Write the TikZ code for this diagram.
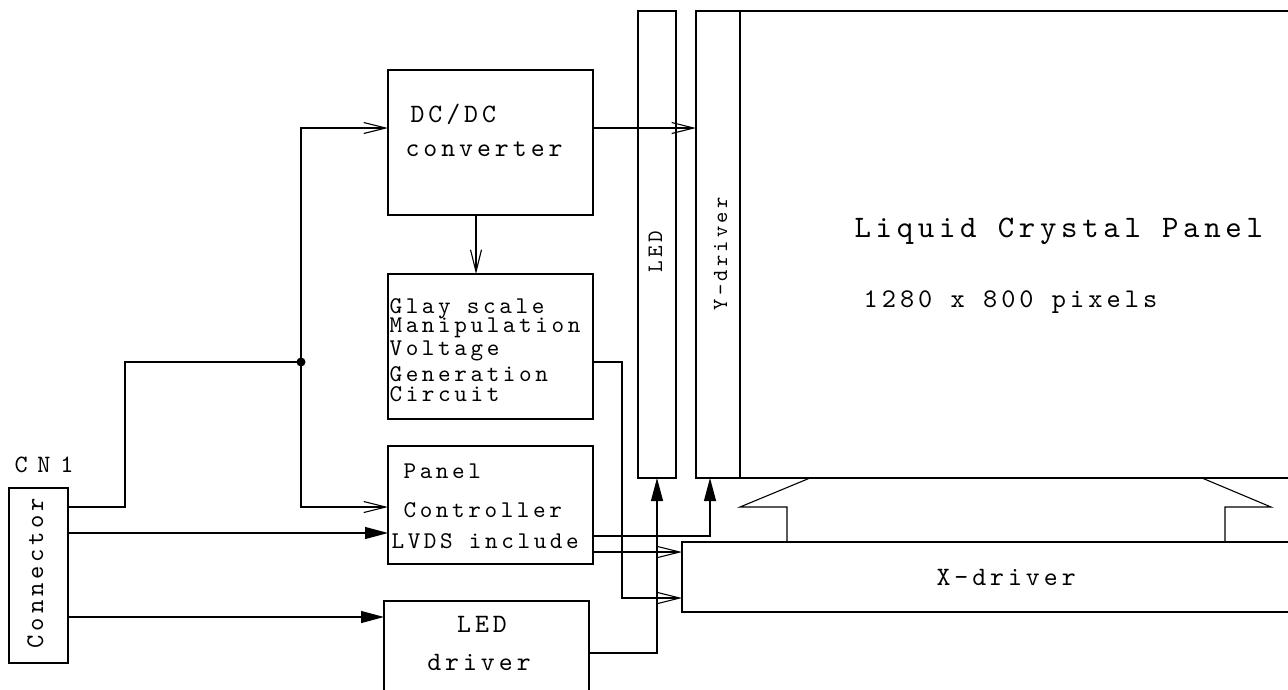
\documentclass[tikz,border=0pt]{standalone}
\usepackage{fontspec}
\newfontfamily\mono{lmmono10-regular.otf}[LetterSpace=15]
\newfontfamily\monowide{lmmono10-regular.otf}[LetterSpace=39]
\usetikzlibrary{arrows.meta}
\newcommand\mf[1]{\mono\fontsize{#1}{#1}\selectfont}
\newcommand\mfw[1]{\monowide\fontsize{#1}{#1}\selectfont}
\begin{document}
\begin{tikzpicture}[x=1pt,y=-1pt,line width=1.1pt,
  box/.style={draw, inner sep=0, outer sep=0, anchor=north west},
  lbl/.style={inner sep=0, anchor=base west},
  vlbl/.style={inner sep=0, anchor=base, rotate=90},
  open/.style={-{Straight Barb[length=22pt,width=11pt]}},
  filled/.style={-{Triangle[length=23pt,width=12pt]}}]
\useasboundingbox (0,0) rectangle (1288,689);
\fill[white] (0,0) rectangle (1288,689);
% boxes
\node[box, minimum width=59, minimum height=175] (conn) at (9,488) {};
\node[box, minimum width=205, minimum height=145] (dcdc) at (388,70) {};
\node[box, minimum width=205, minimum height=145] (glay) at (388,274) {};
\node[box, minimum width=205, minimum height=118] (pctl) at (388,446) {};
\node[box, minimum width=205, minimum height=120] (leddrv) at (384,601) {};
\node[box, minimum width=38, minimum height=467] (ledbar) at (638,11) {};
\node[box, minimum width=620, minimum height=467] (panel) at (696,11) {};
\node[box, minimum width=44, minimum height=467] (ydrv) at (696,11) {};
\node[box, minimum width=620, minimum height=70] (xdrv) at (682,542) {};
% texts
\node[lbl, font=\mfw{25}] (cn1) at (14,472) {CN1};
\node[vlbl, font=\mf{25.4}] (conntxt) at (43,573) {Connector};
\node[lbl, font=\mf{26.5}] (dc1) at (410,122) {DC/DC};
\node[lbl, font=\mf{26.5}] (dc2) at (405,156) {converter};
\node[lbl, font=\mf{24}] (g1) at (389,313) {Glay scale};
\node[lbl, font=\mf{24}] (g2) at (389,332) {Manipulation};
\node[lbl, font=\mf{24}] (g3) at (389,355) {Voltage};
\node[lbl, font=\mf{24}] (g4) at (389,381) {Generation};
\node[lbl, font=\mf{24}] (g5) at (389,401) {Circuit};
\node[lbl, font=\mf{24}] (p1) at (403,478) {Panel};
\node[lbl, font=\mf{24}] (p2) at (403,517) {Controller};
\node[lbl, font=\mf{24}] (p3) at (391,548) {LVDS include};
\node[inner sep=0, anchor=base, font=\mf{26.5}] (l1) at (482,632) {LED};
\node[inner sep=0, anchor=base, font=\mf{26.5}] (l2) at (479,670) {driver};
\node[vlbl, font=\mf{22}] (ledtxt) at (662,252) {LED};
\node[vlbl, font=\mf{21.5}] (ytxt) at (727,254) {Y-driver};
\node[lbl, font=\mf{31.3}] (lcp) at (854,237) {Liquid Crystal Panel};
\node[lbl, font=\mf{27}] (res) at (863,307) {1280 x 800 pixels};
\node[lbl, font=\mf{26.5}] (xtxt) at (936,585) {X-driver};
% junctions
\coordinate (jl) at (125,362);
\coordinate (dot) at (301,362);
\fill (dot) circle (4.5);
% connectors
\draw (conn.east |- 0,507) -| (jl) -- (dot);
\draw[open] (dot) |- (dcdc.west |- 0,128);
\draw[open] (dot) |- (pctl.west |- 0,507);
\draw[filled] (conn.east |- 0,533) -- (pctl.west |- 0,533);
\draw[filled] (conn.east |- 0,617) -- (leddrv.west |- 0,617);
\draw[open] (dcdc.south -| 476,0) -- (glay.north -| 476,0);
\draw[open] (dcdc.east |- 0,128) -- (panel.west |- 0,128);
\draw[open] (glay.east |- 0,362) -| (622,598) -- (xdrv.west |- 0,598);
\draw[filled] (pctl.east |- 0,536) -| (panel.south -| 710,0);
\draw[open] (pctl.east |- 0,552) -- (xdrv.west |- 0,552);
\draw[filled] (leddrv.east |- 0,653) -| (ledbar.south);
% X-driver connection brackets
\draw (panel.south -| 810,0) -- (740,507) -- (787,507) -- (xdrv.north -| 787,0);
\draw (panel.south -| 1202,0) -- (1271,507) -- (1225,507) -- (xdrv.north -| 1225,0);
\end{tikzpicture}
\end{document}
